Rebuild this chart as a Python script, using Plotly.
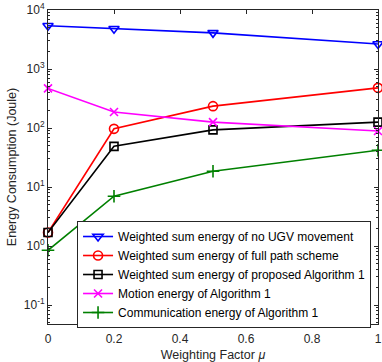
import plotly.graph_objects as go

# Weighting factor values
mu = [0, 0.2, 0.5, 1]

names = [
    "Weighted sum energy of no UGV movement",
    "Weighted sum energy of full path scheme",
    "Weighted sum energy of proposed Algorithm 1",
    "Motion energy of Algorithm 1",
    "Communication energy of Algorithm 1",
]
no_ugv = [5400, 4800, 4100, 2650]
full_path = [1.7, 97, 235, 480]
proposed = [1.7, 49, 93, 126]
motion = [470, 187, 126, 89]
comm = [0.85, 7.0, 18.5, 42]

series = [no_ugv, full_path, proposed, motion, comm]
colors = ["#0000FF", "#FF0000", "#000000", "#FF00FF", "#008000"]
symbols = ["triangle-down-open", "circle-open", "square-open", "x-thin-open", "cross-thin-open"]
sizes = [9, 9, 8, 8, 9]

fig = go.Figure()
for name, ys, c, s, sz in zip(names, series, colors, symbols, sizes):
    fig.add_trace(go.Scatter(
        x=mu, y=ys, name=name, mode="lines+markers", cliponaxis=False,
        line=dict(color=c, width=1.6),
        marker=dict(symbol=s, size=sz, color=c, line=dict(color=c, width=1.6)),
    ))

major = [0.1, 1, 10, 100, 1000, 10000]
major_txt = ["10<sup>-1</sup>", "10<sup>0</sup>", "10<sup>1</sup>",
             "10<sup>2</sup>", "10<sup>3</sup>", "10<sup>4</sup>"]
minor_vals = [d * 10 ** k for k in range(-2, 4) for d in range(2, 10)]

fig.update_layout(
    width=382, height=362,
    margin=dict(l=48, r=4, t=10, b=38, autoexpand=False),
    paper_bgcolor="white", plot_bgcolor="white",
    font=dict(family="Liberation Sans, Arial, sans-serif", size=12, color="#262626"),
    showlegend=True,
    legend=dict(
        x=0.088, y=0.328, xanchor="left", yanchor="top",
        bgcolor="white", bordercolor="#262626", borderwidth=1,
        font=dict(size=12, color="#000000"),
        tracegroupgap=0, itemwidth=30,
    ),
)
fig.update_xaxes(
    range=[0, 1], tickvals=[0, 0.2, 0.4, 0.6, 0.8, 1],
    ticktext=["0", "0.2", "0.4", "0.6", "0.8", "1"],
    ticks="inside", ticklen=4, tickcolor="#262626", ticklabelstandoff=4,
    showline=True, linecolor="#262626", linewidth=1, mirror="ticks",
    showgrid=False, zeroline=False,
    title=dict(text="Weighting Factor <i>μ</i>", standoff=4, font=dict(size=12.5)),
)
fig.update_yaxes(
    type="log", range=[-1.32, 4],
    tickvals=major, ticktext=major_txt,
    ticks="inside", ticklen=4, tickcolor="#262626",
    minor=dict(tickvals=minor_vals, ticks="inside", ticklen=2, tickcolor="#262626", showgrid=False),
    showline=True, linecolor="#262626", linewidth=1, mirror="ticks",
    showgrid=False, zeroline=False,
    title=dict(text="Energy Consumption (Joule)", standoff=4, font=dict(size=12.5)),
)

# drop the page's default body margin so the figure sits at the window corner
fig.write_html("out.html", config={"displayModeBar": False},
               post_script="document.body.style.margin='0';")
